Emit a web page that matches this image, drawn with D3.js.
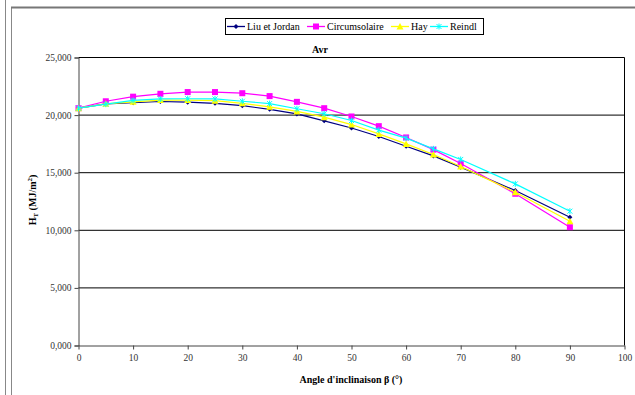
<!DOCTYPE html>
<html><head><meta charset="utf-8">
<script src="https://cdn.jsdelivr.net/npm/d3@7"></script>
<style>body{margin:0;background:#fff}svg{display:block}</style>
</head><body><svg id="c" width="635" height="395"></svg>
<script>
const angles = [0,5,10,15,20,25,30,35,40,45,50,55,60,65,70,80,90];
const liuJordan = [20.6,20.98,21.07,21.18,21.12,21.02,20.82,20.5,20.1,19.5,18.88,18.14,17.3,16.46,15.48,13.45,11.14];
const circumsolaire = [20.6,21.2,21.6,21.85,22.0,22.0,21.9,21.65,21.15,20.6,19.88,19.04,18.06,17.0,15.8,13.17,10.27];
const hay = [20.6,20.98,21.15,21.3,21.3,21.25,21.02,20.72,20.32,19.82,19.18,18.37,17.5,16.58,15.54,13.3,10.79];
const reindl = [20.6,20.95,21.27,21.4,21.42,21.4,21.2,21.0,20.55,20.12,19.53,18.7,18.0,17.07,16.15,14.03,11.66];
const seriesNames = ["Liu et Jordan","Circumsolaire","Hay","Reindl"];
const seriesColors = ["#000080","#ff00ff","#ffff00","#00ffff"];
const seriesMarkers = ["diamond","square","triangle","cross"];
const xTicks = [0,10,20,30,40,50,60,70,80,90,100];
const yTicks = [0,5,10,15,20,25];
const yTickLabels = ["0,000","5,000","10,000","15,000","20,000","25,000"];
const chartTitle = "Avr";
const SERIF = "Liberation Serif";

const svg = d3.select("#c");
svg.append("line").attr("x1",5.5).attr("x2",5.5).attr("y1",0).attr("y2",395).attr("stroke","#888");
svg.append("line").attr("x1",11.5).attr("x2",11.5).attr("y1",7).attr("y2",395).attr("stroke","#888");
svg.append("line").attr("x1",11).attr("x2",635).attr("y1",7.5).attr("y2",7.5).attr("stroke","#777").attr("stroke-width",2);

const x = d3.scaleLinear().domain([0,100]).range([78.5,624.5]);
const y = d3.scaleLinear().domain([0,25]).range([345.5,57.5]);

svg.append("g").selectAll("line").data(yTicks.filter(d=>d>0)).join("line")
  .attr("x1",x(0)).attr("x2",x(100)).attr("y1",d=>y(d)).attr("y2",d=>y(d))
  .attr("stroke","#000").attr("stroke-width",1);
svg.append("line").attr("x1",x(100)).attr("x2",x(100)).attr("y1",y(25)).attr("y2",y(0)).attr("stroke","#000");

const gy = svg.append("g").attr("transform",`translate(${x(0)},0)`)
  .call(d3.axisLeft(y).tickValues(yTicks).tickSize(4).tickPadding(3).tickFormat((d,i)=>yTickLabels[i]));
gy.attr("font-family",SERIF).attr("font-size",9.5);
gy.select(".domain").attr("stroke","#444");
gy.selectAll(".tick line").attr("stroke","#444");
gy.selectAll("text").attr("fill","#333");

const gx = svg.append("g").attr("transform",`translate(0,${y(0)})`)
  .call(d3.axisBottom(x).tickValues(xTicks).tickSize(4).tickPadding(5).tickSizeOuter(0));
gx.attr("font-family",SERIF).attr("font-size",9.5);
gx.select(".domain").attr("stroke","#444");
gx.selectAll(".tick line").attr("stroke","#444");
gx.selectAll("text").attr("fill","#333");

svg.append("text").attr("x",351).attr("y",383).attr("text-anchor","middle").attr("font-size",10).attr("font-weight","bold")
  .attr("font-family",SERIF).text("Angle d'inclinaison β (°)");
const yt = svg.append("text").attr("transform","translate(36,200) rotate(-90)").attr("text-anchor","middle").attr("font-size",10).attr("font-weight","bold").attr("font-family",SERIF);
yt.append("tspan").text("H");
yt.append("tspan").attr("font-size",7).attr("dy",2).text("T");
yt.append("tspan").attr("dy",-2).text(" (MJ/m");
yt.append("tspan").attr("font-size",7).attr("dy",-4).text("2");
yt.append("tspan").attr("dy",4).text(")");

svg.append("text").attr("x",320).attr("y",53).attr("text-anchor","middle").attr("font-size",10).attr("font-weight","bold").attr("font-family",SERIF).text(chartTitle);

const data = [liuJordan,circumsolaire,hay,reindl];
const line = d3.line().x((d,i)=>x(angles[i])).y(d=>y(d));

function marker(g, type, color, cx, cy){
  if(type==="diamond") g.append("path").attr("d",`M${cx},${cy-2.5}L${cx+2.5},${cy}L${cx},${cy+2.5}L${cx-2.5},${cy}Z`).attr("fill",color);
  else if(type==="square") g.append("rect").attr("x",cx-3).attr("y",cy-3).attr("width",6).attr("height",6).attr("fill",color);
  else if(type==="triangle") g.append("path").attr("d",`M${cx},${cy-3.5}L${cx+3.5},${cy+3}L${cx-3.5},${cy+3}Z`).attr("fill",color);
  else g.append("path").attr("d",`M${cx-2.5},${cy-2.5}L${cx+2.5},${cy+2.5}M${cx+2.5},${cy-2.5}L${cx-2.5},${cy+2.5}M${cx},${cy-3}L${cx},${cy+3}`).attr("stroke",color).attr("stroke-width",1);
}

data.forEach((vals,k)=>{
  const g = svg.append("g");
  g.append("path").datum(vals).attr("d",line).attr("fill","none").attr("stroke",seriesColors[k]).attr("stroke-width",1.2);
  vals.forEach((v,i)=>marker(g,seriesMarkers[k],seriesColors[k],x(angles[i]),y(v)));
});

const lg = svg.append("g");
lg.append("rect").attr("x",225.5).attr("y",18.5).attr("width",258).attr("height",16).attr("fill","#fff").attr("stroke","#000");
const legX = [227,307,391,430];
legX.forEach((lx,k)=>{
  lg.append("line").attr("x1",lx).attr("x2",lx+18).attr("y1",26.5).attr("y2",26.5).attr("stroke",seriesColors[k]).attr("stroke-width",1.3);
  marker(lg,seriesMarkers[k],seriesColors[k],lx+9,26.5);
  lg.append("text").attr("x",lx+20).attr("y",30).attr("font-size",10).attr("font-family",SERIF).text(seriesNames[k]);
});
</script></body></html>
